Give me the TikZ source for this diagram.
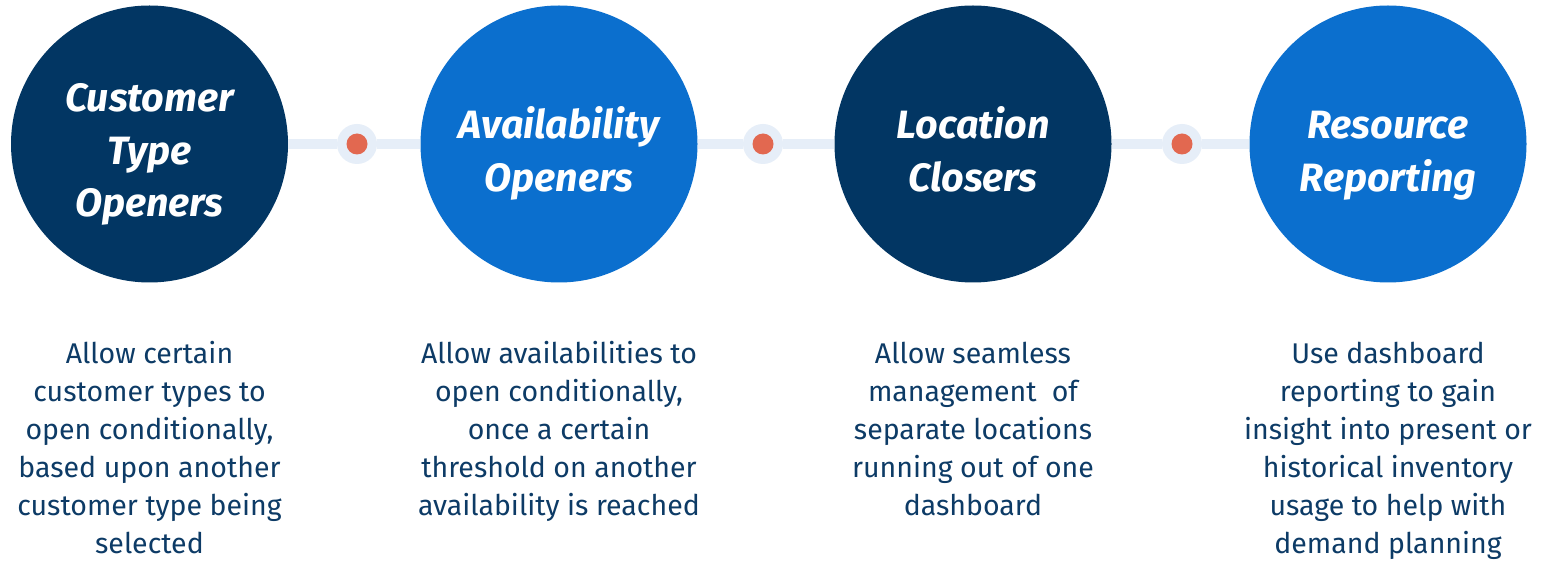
\documentclass[tikz,border=0pt]{standalone}
\usepackage{fontspec}
\setmainfont{Fira Sans}
\definecolor{navy}{RGB}{2,54,99}
\definecolor{brightblue}{RGB}{11,111,206}
\definecolor{bodytext}{RGB}{13,59,102}
\definecolor{linkline}{RGB}{230,238,248}
\definecolor{dotred}{RGB}{226,104,80}
\begin{document}
\begin{tikzpicture}[x=1pt,y=-1pt,
  stage/.style={circle,minimum size=277pt,inner sep=0pt},
  titletext/.style={anchor=base,align=center,text=white,
    font=\fontsize{39.5}{52.5}\selectfont\bfseries\itshape},
  bodyblock/.style={anchor=base,align=center,text=bodytext,
    font=\fontsize{28.5}{38}\selectfont},
  link/.style={draw=linkline,line width=10pt},
  ring/.style={circle,fill=linkline,minimum size=40pt,inner sep=0pt},
  reddot/.style={circle,fill=dotred,minimum size=21pt,inner sep=0pt}]
\useasboundingbox[fill=white] (0,0) rectangle (1543,561);
% circles
\node[stage,fill=navy] (c1) at (149.5,144) {};
\node[stage,fill=brightblue] (c2) at (559,144) {};
\node[stage,fill=navy] (c3) at (973,144) {};
\node[stage,fill=brightblue] (c4) at (1388,144) {};
% rings and dots
\node[ring] (r1) at (357,144) {};
\node[ring] (r2) at (763,144) {};
\node[ring] (r3) at (1182,144) {};
\node[reddot] (d1) at (r1) {};
\node[reddot] (d2) at (r2) {};
\node[reddot] (d3) at (r3) {};
% connectors
\draw[link] (c1.east) -- (r1.west);
\draw[link] (r1.east) -- (c2.west);
\draw[link] (c2.east) -- (r2.west);
\draw[link] (r2.east) -- (c3.west);
\draw[link] (c3.east) -- (r3.west);
\draw[link] (r3.east) -- (c4.west);
% titles (base = last line's baseline)
\node[titletext] (t1) at (149.5,217) {Customer\\Type\\Openers};
\node[titletext] (t2) at (559,191.5) {Availability\\Openers};
\node[titletext] (t3) at (973,191.5) {Location\\Closers};
\node[titletext] (t4) at (1388,191.5) {Resource\\Reporting};
% descriptions (base = last line's baseline)
\node[bodyblock] (b1) at (149.5,553) {Allow certain\\customer types to\\open conditionally,\\based upon another\\customer type being\\selected};
\node[bodyblock] (b2) at (559,515) {Allow availabilities to\\open conditionally,\\once a certain\\threshold on another\\availability is reached};
\node[bodyblock] (b3) at (973,515) {Allow seamless\\management\ \ of\\separate locations\\running out of one\\dashboard};
\node[bodyblock] (b4) at (1388,553) {Use dashboard\\reporting to gain\\insight into present or\\historical inventory\\usage to help with\\demand planning};
\end{tikzpicture}
\end{document}
